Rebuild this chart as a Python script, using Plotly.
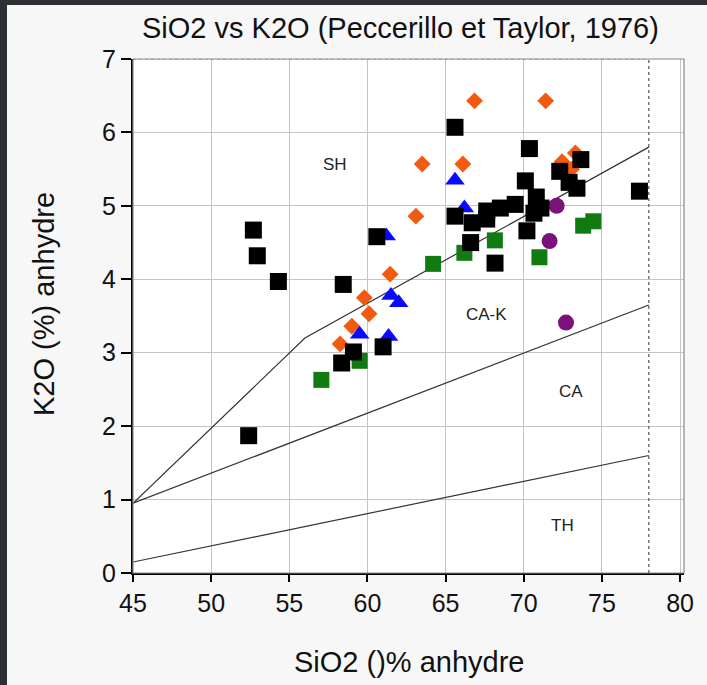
import plotly.graph_objects as go

# ---- data ----
black_x = [52.7, 52.95, 54.3, 52.4, 58.45, 60.6, 61.0, 59.1, 58.35, 65.6, 65.6, 66.7, 66.6, 67.63, 67.63,
           68.5, 69.45, 68.16, 70.36, 70.1, 70.8, 70.65, 70.2, 71.1, 72.3, 72.9, 73.4, 73.65, 77.4]
black_y = [4.67, 4.32, 3.97, 1.87, 3.93, 4.58, 3.08, 3.01, 2.86, 6.07, 4.86, 4.77, 4.5, 4.93, 4.82,
           4.97, 5.02, 4.22, 5.78, 5.34, 5.12, 4.9, 4.66, 4.97, 5.47, 5.32, 5.24, 5.63, 5.2]

blue_x = [61.2, 61.5, 62.0, 59.5, 61.35, 65.6, 66.2]
blue_y = [4.59, 3.78, 3.68, 3.25, 3.22, 5.35, 4.97]

orange_x = [58.25, 59.0, 59.8, 60.1, 61.45, 63.1, 63.5, 66.1, 66.85, 71.4, 72.45, 73.05, 73.3]
orange_y = [3.12, 3.36, 3.75, 3.53, 4.07, 4.86, 5.57, 5.57, 6.43, 6.43, 5.6, 5.5, 5.72]

green_x = [57.05, 59.5, 64.2, 66.2, 68.15, 71.0, 73.8, 74.45]
green_y = [2.63, 2.89, 4.21, 4.36, 4.53, 4.3, 4.73, 4.79]

purple_x = [72.1, 71.65, 72.7]
purple_y = [5.0, 4.52, 3.41]

# boundary lines (Peccerillo & Taylor 1976)
th_ca_x = [45, 78]
th_ca_y = [0.15, 1.6]
ca_cak_x = [45, 78]
ca_cak_y = [0.95, 3.65]
cak_sh_x = [45, 56, 78]
cak_sh_y = [0.95, 3.2, 5.8]

labels = ["SH", "CA-K", "CA", "TH"]
label_x = [57.9, 67.6, 73.0, 72.5]
label_y = [5.57, 3.52, 2.47, 0.65]

x_ticks = [45, 50, 55, 60, 65, 70, 75, 80]
y_ticks = [0, 1, 2, 3, 4, 5, 6, 7]

FONT = "Liberation Sans, Arial, sans-serif"

fig = go.Figure()
line_style = dict(color="#333333", width=1.2)
for xs, ys in [(th_ca_x, th_ca_y), (ca_cak_x, ca_cak_y), (cak_sh_x, cak_sh_y)]:
    fig.add_trace(go.Scatter(x=xs, y=ys, mode="lines", line=line_style, hoverinfo="skip", showlegend=False))

fig.add_trace(go.Scatter(x=green_x, y=green_y, mode="markers",
                         marker=dict(symbol="square", size=16, color="#127a12"), showlegend=False))
fig.add_trace(go.Scatter(x=purple_x, y=purple_y, mode="markers",
                         marker=dict(symbol="circle", size=16, color="#7a127a"), showlegend=False))
fig.add_trace(go.Scatter(x=orange_x, y=orange_y, mode="markers",
                         marker=dict(symbol="diamond", size=13, color="#f25a0f"), showlegend=False))
fig.add_trace(go.Scatter(x=blue_x, y=blue_y, mode="markers",
                         marker=dict(symbol="triangle-up", size=17, color="#0a0aff"), showlegend=False))
fig.add_trace(go.Scatter(x=black_x, y=black_y, mode="markers",
                         marker=dict(symbol="square", size=17, color="#000000"), showlegend=False))

for t, lx, ly in zip(labels, label_x, label_y):
    fig.add_annotation(x=lx, y=ly, text=t, showarrow=False,
                       font=dict(family=FONT, size=17, color="#222222"))

L, R, T, B = 133, 23, 59, 112
W, H = 707, 685
pw, ph = W - L - R, H - T - B

def px(xp):
    return (xp - L) / pw

def py(yp):
    return (H - B - yp) / ph

shapes = [
    # gray frame
    dict(type="rect", xref="paper", yref="paper", x0=0, x1=1, y0=0, y1=1,
         line=dict(color="#8a8a8a", width=1.2), layer="above"),
    # dotted vertical at x=78
    dict(type="line", xref="x", yref="y", x0=78, x1=78, y0=0, y1=7,
         line=dict(color="#555555", width=1.2, dash="dot"), layer="above"),
    dict(type="line", xref="x", yref="y", x0=45, x1=78, y0=7, y1=7,
         line=dict(color="#777777", width=1, dash="dot"), layer="above"),
    # dark screenshot border strips
    dict(type="rect", xref="paper", yref="paper", x0=px(0), x1=px(7), y0=py(H), y1=py(0),
         line=dict(width=0), fillcolor="#2d3036", layer="above"),
    dict(type="rect", xref="paper", yref="paper", x0=px(0), x1=px(W), y0=py(5), y1=py(0),
         line=dict(width=0), fillcolor="#2d3036", layer="above"),
]

fig.add_annotation(xref="paper", yref="paper", x=px(409), y=py(662), text="SiO2 ()% anhydre",
                   showarrow=False, font=dict(family=FONT, size=29, color="#111111"),
                   xanchor="center", yanchor="middle")
fig.add_annotation(xref="paper", yref="paper", x=px(44), y=py(304), text="K2O (%) anhydre",
                   showarrow=False, textangle=-90, font=dict(family=FONT, size=29, color="#111111"),
                   xanchor="center", yanchor="middle")
fig.add_annotation(xref="paper", yref="paper", x=px(400), y=py(28),
                   text="SiO2 vs K2O (Peccerillo et Taylor, 1976)",
                   showarrow=False, font=dict(family=FONT, size=29, color="#111111"),
                   xanchor="center", yanchor="middle")

fig.update_layout(
    width=W, height=H,
    margin=dict(l=L, r=R, t=T, b=B, pad=0),
    paper_bgcolor="#f7f7f7", plot_bgcolor="#ffffff",
    shapes=shapes, showlegend=False,
    font=dict(family=FONT, color="#111111"),
)
fig.update_xaxes(range=[45, 80.25], tickvals=x_ticks, ticktext=[str(v) for v in x_ticks],
                 showgrid=True, gridcolor="#c4c4c4", gridwidth=1, zeroline=False,
                 showline=True, linecolor="#000000", linewidth=2,
                 ticks="outside", ticklen=7, tickcolor="#000000", tickwidth=1.5,
                 tickfont=dict(family=FONT, size=25, color="#111111"))
fig.update_yaxes(range=[0, 7], tickvals=y_ticks, ticktext=[str(v) for v in y_ticks],
                 showgrid=True, gridcolor="#c4c4c4", gridwidth=1, zeroline=False,
                 showline=True, linecolor="#000000", linewidth=2,
                 ticks="outside", ticklen=10, tickcolor="#000000", tickwidth=1.5,
                 tickfont=dict(family=FONT, size=25, color="#111111"))

fig.write_html("out.html")
